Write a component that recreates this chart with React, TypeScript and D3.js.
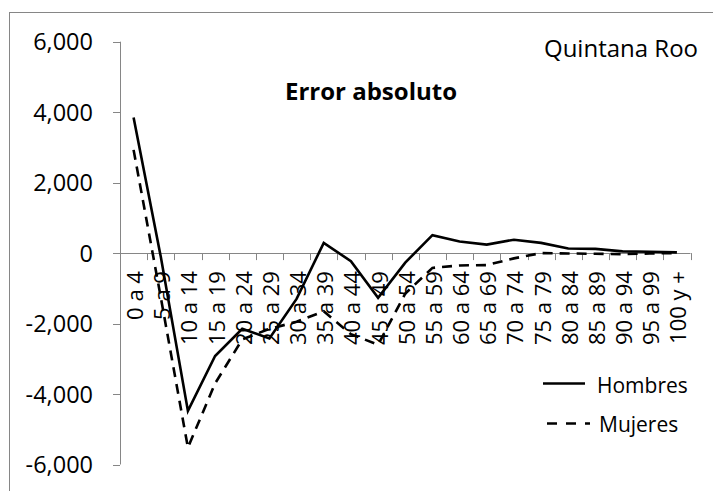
import React from "react";
import * as d3 from "d3";

const categories = [
  "0 a 4", "5 a 9", "10 a 14", "15 a 19", "20 a 24", "25 a 29", "30 a 34",
  "35 a 39", "40 a 44", "45 a 49", "50 a 54", "55 a 59", "60 a 64", "65 a 69",
  "70 a 74", "75 a 79", "80 a 84", "85 a 89", "90 a 94", "95 a 99", "100 y +",
];
const hombres = [3850, -100, -4480, -2920, -2150, -2420, -1300, 290, -230, -1270, -270, 510, 330, 240, 380, 290, 130, 120, 50, 40, 20];
const mujeres = [2930, -1250, -5520, -3700, -2450, -2150, -1950, -1650, -2300, -2600, -1150, -420, -350, -340, -150, 0, -10, -20, -30, -10, 0];
const yTicks = [-6000, -4000, -2000, 0, 2000, 4000, 6000];
const seriesNames = ["Hombres", "Mujeres"];
const titleText = "Error absoluto";
const subtitleText = "Quintana Roo";

const locale = d3.formatLocale({ decimal: ".", thousands: ",", grouping: [3], currency: ["$", ""], minus: "-" });
const fmt = locale.format(",");

const FONT = "'Open Sans', 'Noto Sans', sans-serif";
const AXIS = "#868686";

export default function App() {
  const W = 713, H = 491;
  const x0 = 120, x1 = 690.5, yTop = 41.7, yBot = 464.5;
  const x = d3.scaleBand<string>().domain(categories).range([x0, x1]);
  const y = d3.scaleLinear().domain([-6000, 6000]).range([yBot, yTop]);
  const cx = (i: number) => (x(categories[i]) as number) + x.bandwidth() / 2;
  const line = d3.line<number>().x((_, i) => cx(i)).y((d) => y(d));
  const y0 = y(0);

  return (
    <svg width={W} height={H} style={{ position: "absolute", left: 0, top: 0, background: "#fff" }} fontFamily={FONT}>
      <rect x={0} y={0} width={W} height={H} fill="#fff" />
      <rect x={9.5} y={12.5} width={W + 50} height={H + 50} fill="none" stroke={AXIS} strokeWidth={1} />

      {/* y axis */}
      <line x1={x0 + 0.5} x2={x0 + 0.5} y1={yTop} y2={yBot} stroke={AXIS} strokeWidth={1} />
      {yTicks.map((t) => (
        <g key={t}>
          <line x1={x0 - 7} x2={x0} y1={Math.round(y(t)) + 0.5} y2={Math.round(y(t)) + 0.5} stroke={AXIS} />
          <text x={93} y={y(t) + 8.5} textAnchor="end" fontSize={23.5} fill="#000">{fmt(t)}</text>
        </g>
      ))}

      {/* x axis at zero */}
      <line x1={x0} x2={x1} y1={Math.round(y0) + 0.5} y2={Math.round(y0) + 0.5} stroke={AXIS} strokeWidth={1} />
      {categories.map((c) => {
        const bx = Math.round((x(c) as number) + x.bandwidth()) + 0.5;
        return <line key={"t" + c} x1={bx} x2={bx} y1={y0} y2={y0 + 7} stroke={AXIS} />;
      })}
      {categories.map((c, i) => (
        <text key={"l" + c} transform={`translate(${cx(i) + 9.5},${y0 + 18}) rotate(-90)`} textAnchor="end" fontSize={22} fill="#000">{c}</text>
      ))}

      {/* series */}
      <path d={line(mujeres) as string} fill="none" stroke="#000" strokeWidth={2.6} strokeDasharray="10,7" />
      <path d={line(hombres) as string} fill="none" stroke="#000" strokeWidth={2.6} />

      {/* titles */}
      <text x={371} y={100} textAnchor="middle" fontSize={24} fontWeight="bold" fill="#000">{titleText}</text>
      <text x={698} y={57} textAnchor="end" fontSize={24} fill="#000">{subtitleText}</text>

      {/* legend */}
      <line x1={543} x2={585} y1={383.5} y2={383.5} stroke="#000" strokeWidth={2.6} />
      <text x={597} y={393} fontSize={21} fill="#000">{seriesNames[0]}</text>
      <line x1={547} x2={590} y1={423.5} y2={423.5} stroke="#000" strokeWidth={2.6} strokeDasharray="10,9" />
      <text x={599} y={432} fontSize={21} fill="#000">{seriesNames[1]}</text>
    </svg>
  );
}
